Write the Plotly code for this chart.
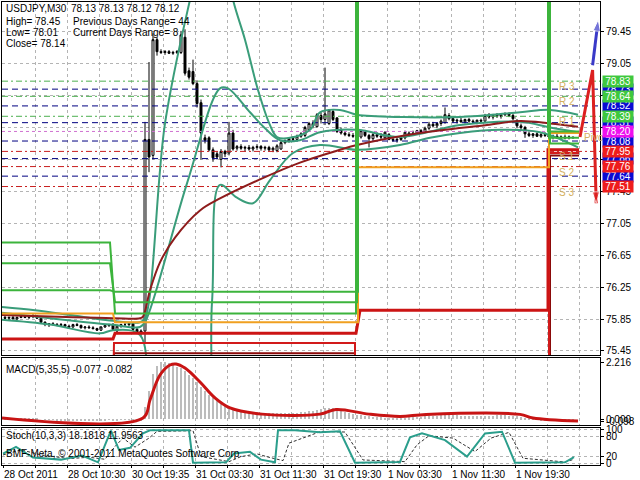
import plotly.graph_objects as go

# ---------------- DATA ----------------
opens = [75.87,75.86,75.87,75.85,75.87,75.88,75.87,75.89,75.88,75.86,
         75.81,75.78,75.79,75.78,75.77,75.78,75.76,75.75,75.78,75.77,
         75.74,75.75,75.74,75.73,75.71,75.75,75.77,75.78,75.70,75.76,
         75.78,75.78,75.79,75.72,75.68,75.70,78.10,77.90,79.35,79.20,
         79.19,79.20,79.18,79.19,79.19,79.38,78.96,78.95,78.80,78.56,
         78.12,78.12,77.97,77.92,77.85,77.95,77.93,78.18,77.99,78.01,
         77.99,78.00,77.98,78.00,78.01,77.99,78.00,77.97,77.96,77.98,
         78.06,78.08,78.11,78.10,78.14,78.15,78.22,78.30,78.26,78.40,
         78.35,78.30,78.45,78.37,78.22,78.18,78.16,78.15,78.14,78.13,
         78.20,78.15,78.11,78.16,78.14,78.12,78.16,78.10,78.09,78.10,
         78.12,78.15,78.18,78.17,78.21,78.19,78.24,78.29,78.27,78.30,
         78.31,78.40,78.36,78.33,78.34,78.32,78.35,78.33,78.32,78.34,
         78.33,78.40,78.38,78.41,78.39,78.41,78.42,78.40,78.34,78.27,
         78.25,78.17,78.15,78.17,78.14,78.16,78.15,78.13,78.14,78.12,
         78.13,78.12,78.13]
highs = [75.89,75.88,75.89,75.88,75.90,75.90,75.90,75.91,75.90,75.87,
         75.82,75.80,75.81,75.80,75.80,75.79,75.78,75.79,75.80,75.78,
         75.76,75.77,75.76,75.74,75.76,75.78,75.79,75.80,75.78,75.79,
         75.80,75.81,75.80,75.74,75.72,78.32,79.07,79.43,79.38,79.23,
         79.22,79.22,79.21,79.22,79.46,79.48,79.00,79.10,78.84,78.60,
         78.16,78.14,78.00,77.95,77.98,77.97,78.32,78.22,78.03,78.04,
         78.02,78.03,78.02,78.04,78.03,78.02,78.02,78.01,78.04,78.08,
         78.10,78.13,78.14,78.16,78.19,78.27,78.32,78.34,78.43,78.44,
         79.00,78.48,78.48,78.38,78.25,78.20,78.19,78.18,78.17,78.22,
         78.22,78.17,78.18,78.19,78.18,78.20,78.18,78.13,78.12,78.14,
         78.21,78.20,78.21,78.22,78.23,78.26,78.32,78.32,78.31,78.35,
         78.50,78.43,78.38,78.36,78.37,78.36,78.37,78.35,78.35,78.36,
         78.42,78.43,78.42,78.43,78.42,78.44,78.44,78.42,78.35,78.30,
         78.27,78.20,78.18,78.19,78.18,78.19,78.18,78.16,78.17,78.15,
         78.16,78.15,78.13]
lows = [75.85,75.84,75.85,75.84,75.86,75.86,75.85,75.86,75.85,75.80,
        75.76,75.75,75.77,75.76,75.75,75.74,75.73,75.74,75.76,75.73,
        75.72,75.73,75.72,75.70,75.70,75.74,75.75,75.70,75.66,75.74,
        75.76,75.76,75.70,75.66,75.64,75.55,77.69,77.85,79.15,79.17,
        79.16,79.17,79.16,79.17,79.17,78.90,78.85,78.78,78.50,77.85,
        78.05,77.95,77.82,77.85,77.75,77.88,77.90,77.96,77.96,77.97,
        77.95,77.96,77.95,77.97,77.96,77.96,77.95,77.94,77.94,77.97,
        78.04,78.06,78.08,78.09,78.12,78.13,78.20,78.24,78.25,78.30,
        78.28,78.28,78.33,78.18,78.16,78.14,78.13,78.12,78.11,78.11,
        78.13,78.00,78.09,78.12,78.10,78.10,78.09,78.07,78.06,78.08,
        78.10,78.13,78.15,78.16,78.17,78.18,78.22,78.25,78.24,78.27,
        78.30,78.34,78.31,78.30,78.31,78.30,78.31,78.30,78.29,78.31,
        78.32,78.36,78.35,78.37,78.36,78.39,78.38,78.34,78.24,78.22,
        78.12,78.13,78.12,78.13,78.12,78.13,78.11,78.10,78.11,78.09,
        78.10,78.10,78.12]
closes = [75.86,75.87,75.85,75.87,75.88,75.87,75.89,75.88,75.86,75.81,
          75.78,75.79,75.78,75.77,75.78,75.76,75.75,75.78,75.77,75.74,
          75.75,75.74,75.73,75.71,75.75,75.77,75.78,75.72,75.76,75.78,
          75.78,75.79,75.72,75.68,75.70,78.10,77.88,79.35,79.20,79.19,
          79.20,79.18,79.19,79.20,79.41,78.93,78.88,78.80,78.55,78.18,
          78.09,77.97,77.87,77.88,77.95,77.92,78.18,77.98,78.01,77.99,
          78.00,77.98,78.00,78.01,77.99,78.00,77.97,77.99,78.02,78.06,
          78.08,78.11,78.10,78.14,78.17,78.25,78.30,78.27,78.41,78.35,
          78.42,78.47,78.35,78.20,78.18,78.16,78.15,78.14,78.13,78.21,
          78.15,78.11,78.16,78.14,78.13,78.19,78.10,78.09,78.10,78.12,
          78.19,78.18,78.17,78.21,78.19,78.24,78.29,78.27,78.30,78.33,
          78.41,78.36,78.33,78.34,78.32,78.35,78.33,78.32,78.34,78.33,
          78.40,78.38,78.41,78.39,78.41,78.42,78.40,78.36,78.27,78.25,
          78.17,78.15,78.17,78.14,78.16,78.15,78.13,78.14,78.12,78.13,
          78.12,78.13,78.12]
bar_idx = list(range(len(closes)))

# Bollinger bands (bar, price)
bb_up_x = [-0.75, 7.5, 16.25, 26.25, 33.75, 35, 40, 46.25, 50, 54, 57, 60, 63.25, 66.25, 68, 71.25, 76.25, 78.75, 83.75, 88, 99.5, 113.75, 128.75, 136.25, 143.25]
bb_up_y = [76.00, 75.96, 75.90, 75.83, 75.81, 75.86, 78.30, 79.85, 80.60, 80.60, 79.85, 79.35, 78.72, 78.28, 78.13, 78.12, 78.22, 78.44, 78.47, 78.41, 78.38, 78.38, 78.44, 78.47, 78.41]
bb_mid_x = [-0.75, 26.25, 33.75, 35, 45.5, 53.75, 55.75, 61.25, 65, 68.75, 73.75, 78.75, 88, 98.75, 113.75, 128.75, 136.25, 143.25]
bb_mid_y = [75.93, 75.78, 75.75, 75.81, 77.55, 78.74, 78.74, 78.44, 78.24, 78.09, 78.09, 78.19, 78.22, 78.13, 78.28, 78.32, 78.25, 78.19]
bb_lo_x = [-0.75, 11.25, 23.75, 27, 33.75, 36, 40, 48.75, 51.75, 53.75, 58, 62, 66.25, 72, 78.75, 88, 98.75, 106.25, 113.75, 123.75, 133.75, 143.25]
bb_lo_y = [75.84, 75.78, 75.67, 75.71, 75.65, 74.60, 74.00, 74.00, 76.06, 77.53, 77.37, 77.30, 77.59, 77.93, 78.03, 77.97, 78.03, 78.12, 78.18, 78.22, 78.19, 78.00]
# slow moving average (maroon)
ma_x = [-0.75, 27, 33.75, 34.5, 36.25, 38.75, 42.5, 48.75, 53.75, 63.75, 73.75, 83.75, 88, 103.75, 120.5, 128.75, 136.25, 143.25]
ma_y = [75.90, 75.86, 75.86, 75.88, 76.21, 76.56, 76.87, 77.21, 77.36, 77.60, 77.81, 77.97, 78.03, 78.18, 78.28, 78.33, 78.30, 78.26]

# daily range levels (bar, price)
green1_x = [-0.75, 26.25, 27.5, 87.75, 87.75, 135.75, 135.75, 143.5]
green1_y = [76.81, 76.81, 75.92, 75.92, 80.60, 80.60, 78.20, 78.20]
green2_x = [-0.75, 26.25, 27.5, 88, 88, 136, 136, 143.5]
green2_y = [76.55, 76.55, 76.06, 76.06, 80.60, 80.60, 78.12, 78.12]
green3_x = [-0.75, 26.25, 27.5, 88.25, 88.25, 136.25, 136.25, 143.5]
green3_y = [76.21, 76.21, 76.19, 76.19, 80.60, 80.60, 78.05, 78.05]
orange_x = [-0.75, 27, 27.5, 88.25, 88.25, 136, 136, 143.5]
orange_y = [75.92, 75.92, 75.81, 75.81, 77.75, 77.75, 78.18, 78.18]
red_x = [-0.75, 27, 27.5, 87.75, 88.75, 135.75, 135.75, 143.5]
red_y = [75.60, 75.60, 75.67, 75.67, 75.96, 75.96, 77.97, 77.97]
redbox1_x = [-0.75, 27, 27.25, 87.5, 87.5, 136, 136, 143.5]
redbox1_y = [74.90, 74.90, 75.55, 75.55, 74.90, 74.90, 77.93, 77.93]
redbox2_x = [-0.75, 27, 27.25, 87.5, 87.5, 136.25, 136.25, 143.5]
redbox2_y = [74.90, 74.90, 75.42, 75.42, 74.90, 74.90, 77.90, 77.90]

# pivot levels
pivot_levels = [78.73, 78.52, 78.31, 78.08, 77.86, 77.64, 78.83, 78.64, 78.39, 78.20, 77.95, 77.76, 77.51]
pivot_kinds = ['M', 'M', 'M', 'M', 'M', 'M', 'R', 'R', 'R', 'P', 'S', 'S', 'S']
pivot_names = ['', '', '', '', '', '', 'R 3', 'R 2', 'R 1', 'Pivot', 'S 1', 'S 2', 'S 3']

# projection arrows
blue_arrow_x = [146.9, 148.3]
blue_arrow_y = [79.03, 79.60]
red_arrow_x = [143.75, 146.9, 147.8]
red_arrow_y = [78.13, 78.97, 77.30]

# MACD(5,35,5)
macd_hist = [0.02,0.02,0.01,0.02,0.03,0.02,0.03,0.03,0.02,0.00,
             -0.02,-0.03,-0.03,-0.04,-0.04,-0.04,-0.05,-0.04,-0.04,-0.05,
             -0.05,-0.05,-0.05,-0.06,-0.05,-0.04,-0.03,-0.04,-0.04,-0.03,
             -0.02,-0.02,-0.03,-0.04,-0.04,0.45,1.10,1.75,2.05,2.20,
             2.22,2.18,2.10,2.02,2.00,1.85,1.72,1.60,1.45,1.25,
             1.10,0.95,0.80,0.70,0.60,0.52,0.48,0.42,0.38,0.35,
             0.32,0.30,0.28,0.26,0.25,0.24,0.23,0.22,0.22,0.22,
             0.22,0.23,0.24,0.25,0.26,0.28,0.30,0.32,0.35,0.38,
             0.42,0.44,0.42,0.38,0.33,0.28,0.24,0.20,0.16,0.14,
             0.12,0.10,0.08,0.07,0.06,0.05,0.04,0.03,0.03,0.04,
             0.05,0.06,0.07,0.08,0.09,0.10,0.11,0.12,0.13,0.14,
             0.15,0.15,0.14,0.14,0.13,0.13,0.12,0.12,0.12,0.12,
             0.13,0.13,0.13,0.14,0.14,0.14,0.13,0.12,0.10,0.07,
             0.04,0.01,-0.01,-0.03,-0.04,-0.05,-0.06,-0.06,-0.07,-0.07,
             -0.08,-0.08,-0.077]
macd_sig_x = [-0.75, 34.5, 36.25, 38.75, 41.25, 42.75, 45, 48.75, 52.5, 56.25, 64.25, 78.75, 82.75, 91, 98.75, 105.25, 128.75, 132, 143.25]
macd_sig_y = [0.04, 0.04, 0.74, 1.71, 2.10, 2.14, 1.98, 1.44, 0.82, 0.43, 0.19, 0.19, 0.37, 0.19, 0.10, 0.18, 0.18, 0.04, -0.082]

# Stochastic(10,3,3)
stk_x = [-0.5, 2.75, 7, 14, 19.25, 23.25, 25.5, 26.5, 28.5, 31.25, 34.5, 36.25, 46, 47, 55.25, 57.25, 61.25, 64, 67.5, 68.25, 72.5, 78.75, 83.75, 87.5, 98.75, 101.25, 104.25, 110, 115.5, 120, 124.25, 127.5, 140, 142.25]
stk_y = [29, 49, 17, 11, 23, 3, 69, 97, 40, 46, 89, 98, 98, 2, 3, 29, 34, 11, 3, 98, 98, 92, 95, 2, 4, 77, 89, 69, 20, 89, 94, 2, 3, 18.18]
std_x = [-0.5, 4, 9, 16, 21, 25, 27.5, 29.5, 32.5, 36, 38, 47, 49, 56, 59, 63, 66, 69.5, 71, 79, 85, 89.5, 100, 103, 106, 112, 117.5, 121.5, 126, 129.5, 140, 142.25]
std_y = [25, 40, 25, 14, 18, 12, 50, 75, 48, 75, 95, 97, 20, 5, 20, 28, 18, 8, 60, 95, 93, 10, 5, 55, 82, 75, 35, 75, 92, 15, 4, 11.96]

# axis ticks
price_ticks = [75.45, 75.85, 76.25, 76.65, 77.05, 77.45, 77.85, 78.25, 78.65, 79.05, 79.45]
time_tick_bars = [-0.5, 7.5, 15.5, 23.5, 31.5, 39.5, 47.5, 55.5, 63.5, 71.5, 79.5, 87.5, 95.5, 103.5, 111.5, 119.5, 127.5, 135.5, 143.5]
time_tick_text = ['28 Oct 2011', '', '28 Oct 10:30', '', '30 Oct 19:35', '', '31 Oct 03:30', '', '31 Oct 11:30', '',
                  '31 Oct 19:30', '', '1 Nov 03:30', '', '1 Nov 11:30', '', '1 Nov 19:30', '', '']
macd_ticks = [2.216, 0.0, -0.098]
stoch_ticks = [100, 80, 20, 0]

# ---------------- FIGURE ----------------
FONT = 'Liberation Sans'
X_RANGE = [-0.75, 148.75]
GRID = '#b4b4b4'

fig = go.Figure()

def line(x, y, color, width, dash='solid', axes=('x', 'y'), shape='linear'):
    fig.add_trace(go.Scatter(x=x, y=y, mode='lines', xaxis=axes[0], yaxis=axes[1],
                             line=dict(color=color, width=width, dash=dash, shape=shape),
                             hoverinfo='skip', showlegend=False))

kind_line = {'M': ('#000080', '6px,4px'), 'R': ('#4caf50', '6px,3px,2px,3px'),
             'P': ('#d070d0', '3px,3px'), 'S': ('#c81e1e', '6px,3px,2px,3px')}
for lvl, kind in zip(pivot_levels, pivot_kinds):
    c, d = kind_line[kind]
    line([X_RANGE[0], X_RANGE[1]], [lvl, lvl], c, 1, d)

teal = '#3a9d7a'
line(bb_up_x, bb_up_y, teal, 2, shape='spline')
line(bb_mid_x, bb_mid_y, teal, 2, shape='spline')
line(bb_lo_x, bb_lo_y, teal, 2, shape='spline')
line(ma_x, ma_y, '#8e1c1c', 2, shape='spline')

fig.add_trace(go.Candlestick(x=bar_idx, open=opens, high=highs, low=lows, close=closes,
                             xaxis='x', yaxis='y', whiskerwidth=0,
                             increasing=dict(line=dict(color='black', width=1), fillcolor='white'),
                             decreasing=dict(line=dict(color='black', width=1), fillcolor='black'),
                             hoverinfo='skip', showlegend=False))

line(redbox2_x, redbox2_y, '#8b0a0a', 2)
line(redbox1_x, redbox1_y, '#d21a1a', 2)
line(red_x, red_y, '#cc1414', 3)
line(orange_x, orange_y, '#f0a020', 2)
line(green3_x, green3_y, '#3cb43c', 2)
line(green2_x, green2_y, '#3cb43c', 2)
line(green1_x, green1_y, '#3cb43c', 2)

fig.add_trace(go.Scatter(x=blue_arrow_x, y=blue_arrow_y, mode='lines+markers', cliponaxis=False,
                         line=dict(color='#3a3ac8', width=3),
                         marker=dict(symbol='arrow', size=[0, 12], angleref='previous', color='#3a3ac8'),
                         hoverinfo='skip', showlegend=False))
fig.add_trace(go.Scatter(x=red_arrow_x, y=red_arrow_y, mode='lines+markers', cliponaxis=False,
                         line=dict(color='#dc2020', width=3),
                         marker=dict(symbol='arrow', size=[0, 0, 12], angleref='previous', color='#dc2020'),
                         hoverinfo='skip', showlegend=False))

# MACD
fig.add_trace(go.Bar(x=bar_idx, y=macd_hist, xaxis='x2', yaxis='y2', marker=dict(color='#bcbcbc', line=dict(width=0)),
                     width=0.5, hoverinfo='skip', showlegend=False))
line(macd_sig_x, macd_sig_y, '#c81414', 3, axes=('x2', 'y2'), shape='spline')

# Stochastic
line(std_x, std_y, '#303030', 1, dash='3px,2px', axes=('x3', 'y3'))
line(stk_x, stk_y, '#2b9e8c', 2, axes=('x3', 'y3'))

# ---------------- LAYOUT ----------------
H_TOP, H_BOT = 2, 465
PH = H_BOT - H_TOP
def py(p):
    return (H_BOT - p) / PH

axis_common = dict(showline=True, linecolor='black', linewidth=1, mirror=True, zeroline=False,
                   gridcolor=GRID, griddash='3px,3px', gridwidth=1, automargin=False)
xcommon = dict(axis_common, range=X_RANGE, tickmode='array', tickvals=time_tick_bars, showgrid=True)

fig.update_layout(
    width=640, height=480, margin=dict(l=2, r=40, t=2, b=15, autoexpand=False),
    paper_bgcolor='white', plot_bgcolor='white',
    font=dict(family=FONT, size=10, color='black'),
    bargap=0,
    xaxis=dict(xcommon, anchor='y', showticklabels=False, ticks='', rangeslider=dict(visible=False)),
    xaxis2=dict(xcommon, anchor='y2', matches='x', showticklabels=False, ticks=''),
    xaxis3=dict(xcommon, anchor='y3', matches='x', ticktext=time_tick_text, ticks='outside', ticklen=2,
                tickcolor='black', ticklabelposition='outside right', tickangle=0, tickfont=dict(size=10)),
    yaxis=dict(axis_common, domain=[py(355), 1], range=[75.399, 79.822], side='right',
               tickmode='array', tickvals=price_ticks, ticktext=[f'{v:.2f}' for v in price_ticks],
               ticks='outside', ticklen=3, tickcolor='black', showgrid=True),
    yaxis2=dict(axis_common, domain=[py(425), py(358)], range=[-0.233, 2.372], side='right',
                tickmode='array', tickvals=macd_ticks, ticktext=['2.216', '0.000', '-0.098'],
                ticks='outside', ticklen=3, tickcolor='black', showgrid=False),
    yaxis3=dict(axis_common, domain=[0, py(428)], range=[-5, 105], side='right',
                tickmode='array', tickvals=stoch_ticks, ticktext=['100', '80', '20', '0'],
                ticks='outside', ticklen=3, tickcolor='black', showgrid=True),
)

ann = []
def text(x_px, y_px, s, color='black', size=10):
    ann.append(dict(xref='paper', yref='paper', x=(x_px - 2) / 598, y=py(y_px), xanchor='left', yanchor='middle',
                    text=s, showarrow=False, font=dict(color=color, size=size)))

text(4, 9, 'USDJPY,M30')
text(69, 9, '78.13 78.13 78.12 78.12')
text(4, 21, 'High= 78.45')
text(71, 21, 'Previous Days Range= 44')
text(4, 33, 'Low= 78.01')
text(71, 33, 'Current Days Range= 8')
text(4, 44, 'Close= 78.14')
text(4, 369, 'MACD(5,35,5) -0.077 -0.082')
text(4, 435, 'Stoch(10,3,3) 18.1818 11.9563')
text(4, 453, 'BMF-Meta, © 2001-2011 MetaQuotes Software Corp.')

# pivot names on chart
for lvl, name in zip(pivot_levels, pivot_names):
    if name:
        xb = 144.25 if name == 'Pivot' else 138.0
        ann.append(dict(xref='x', yref='y', x=xb, y=lvl - 0.07, xanchor='left', yanchor='middle', text=name,
                        showarrow=False, font=dict(color='#d4b060', size=10)))

box_color = {'M': '#0a0ad2', 'R': '#3ec83e', 'P': '#ee10ee', 'S': '#ee1c1c'}
for lvl, kind in zip(pivot_levels, pivot_kinds):
    ann.append(dict(xref='paper', yref='y', x=(602 - 2) / 598, y=lvl, xanchor='left', yanchor='middle',
                    text=f'{lvl:.2f}', showarrow=False, bgcolor=box_color[kind], width=29, height=10,
                    borderpad=0.5, font=dict(color='white', size=10)))

fig.update_layout(annotations=ann)
fig.write_html('out.html', config={'displayModeBar': False},
               post_script="document.body.style.margin='0px';document.body.style.padding='0px';")
